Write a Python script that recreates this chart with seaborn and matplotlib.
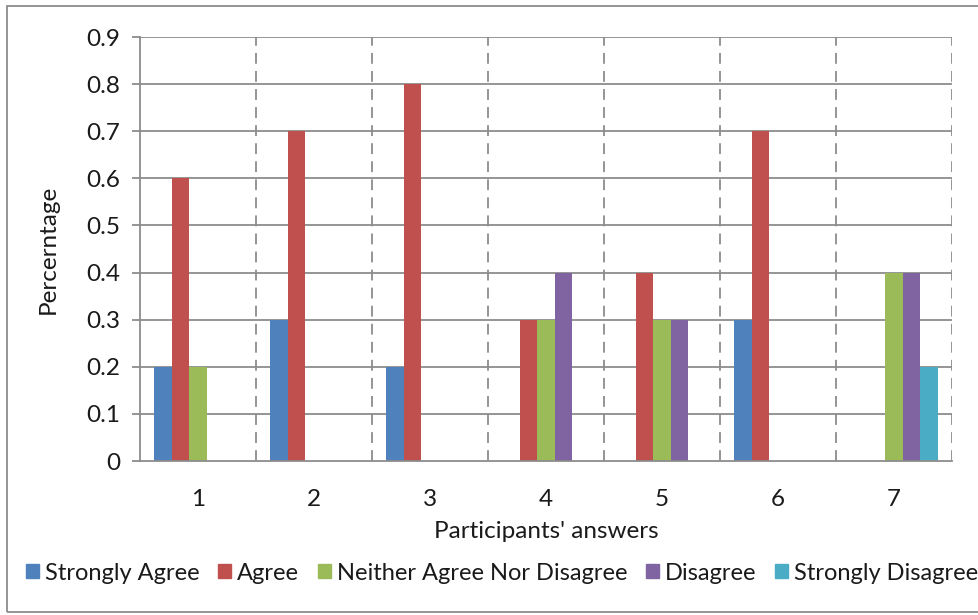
import matplotlib
matplotlib.use("Agg")
import matplotlib.pyplot as plt
import matplotlib.patches as mpatches
import numpy as np
import pandas as pd
import seaborn as sns

answers = ["1", "2", "3", "4", "5", "6", "7"]
strongly_agree = [0.2, 0.3, 0.2, 0.0, 0.0, 0.3, 0.0]
agree = [0.6, 0.7, 0.8, 0.3, 0.4, 0.7, 0.0]
neither = [0.2, 0.0, 0.0, 0.3, 0.3, 0.0, 0.4]
disagree = [0.0, 0.0, 0.0, 0.4, 0.3, 0.0, 0.4]
strongly_disagree = [0.0, 0.0, 0.0, 0.0, 0.0, 0.0, 0.2]

series_names = ["Strongly Agree", "Agree", "Neither Agree Nor Disagree",
                "Disagree", "Strongly Disagree"]
series_values = [strongly_agree, agree, neither, disagree, strongly_disagree]
colors = ["#4F81BD", "#C0504D", "#9BBB59", "#8064A2", "#4BACC6"]
y_ticks = [0, 0.1, 0.2, 0.3, 0.4, 0.5, 0.6, 0.7, 0.8, 0.9]

rows = []
for name, vals in zip(series_names, series_values):
    for a, v in zip(answers, vals):
        rows.append({"answer": a, "value": v, "series": name})
df = pd.DataFrame(rows)

sns.set_theme(style="white")
plt.rcParams["font.family"] = ["Lato", "DejaVu Sans"]

grid_col = "#8C8C8C"
text_col = "#1a1a1a"
fig = plt.figure(figsize=(9.79, 6.15), dpi=100)
W, H = 979, 615
ax = fig.add_axes([140 / W, 1 - 461 / H, (952 - 140) / W, (461 - 37) / H])

sns.barplot(data=df, x="answer", y="value", hue="series",
            hue_order=series_names, palette=colors, order=answers,
            saturation=1, width=0.755, linewidth=0, errorbar=None, ax=ax,
            legend=False, zorder=3)

ax.set_xlim(-0.5, 6.5)
ax.set_ylim(0, 0.9)
ax.set_yticks(y_ticks)
ax.set_yticklabels(["0" if t == 0 else f"{t:.1f}" for t in y_ticks])
ax.set_xticks(range(len(answers)))
ax.set_xticklabels(answers)

# horizontal solid grid
for t in y_ticks[1:]:
    ax.axhline(t, color=grid_col, lw=1.3, zorder=1)
# dashed category separators
for b in np.arange(0.5, 7.0, 1.0):
    ax.axvline(b, color=grid_col, lw=1.3, ls=(0, (6, 4)), zorder=1)

for s in ["top", "right"]:
    ax.spines[s].set_visible(False)
for s in ["left", "bottom"]:
    ax.spines[s].set_color(grid_col)
    ax.spines[s].set_linewidth(1.3)
    ax.spines[s].set_zorder(4)

ax.tick_params(axis="y", length=6, width=1.3, color=grid_col, labelsize=17.5,
               labelcolor=text_col, pad=8, left=True)
ax.tick_params(axis="x", length=0, labelsize=17.5, labelcolor=text_col, pad=20)

ax.set_xlabel("Participants' answers", fontsize=17.5, color=text_col, labelpad=8)
ax.set_ylabel("Percerntage", fontsize=17.5, color=text_col, labelpad=20)

handles = [mpatches.Patch(color=c, label=n) for c, n in zip(colors, series_names)]
fig.legend(handles=handles, loc="center", bbox_to_anchor=(502 / W, 1 - 573 / H),
           ncol=5, frameon=False, fontsize=17, handlelength=0.55,
           handleheight=0.55, handletextpad=0.25, columnspacing=0.8,
           labelcolor=text_col)

# outer chart border
fig.patches.append(mpatches.Rectangle((7 / W, 3 / H), 1.0, (609 - 3) / H,
                                      transform=fig.transFigure, fill=False,
                                      edgecolor=grid_col, lw=1.3))

fig.savefig("out.png", dpi=100)
